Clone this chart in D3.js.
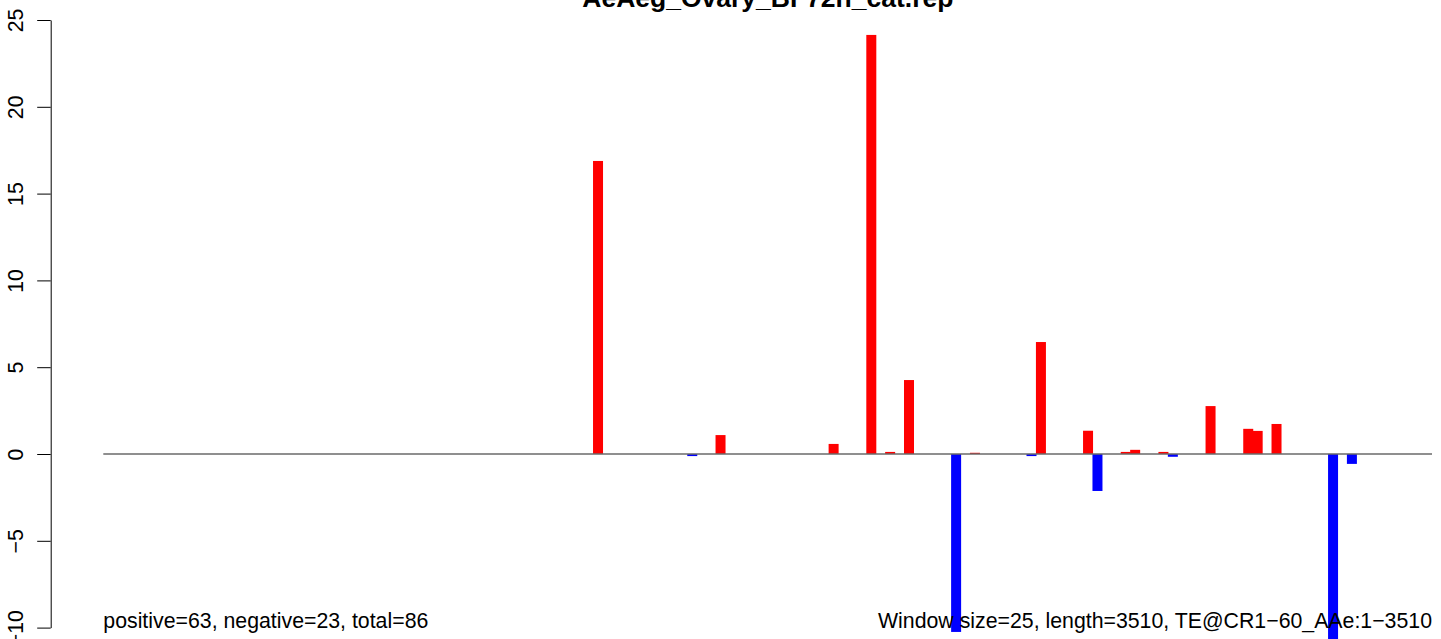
<!DOCTYPE html>
<html>
<head>
<meta charset="utf-8">
<script src="https://cdn.jsdelivr.net/npm/d3@7"></script>
<style>
  html, body { margin: 0; padding: 0; background: #fff; }
  svg { display: block; font-family: "Liberation Sans", Arial, Helvetica, sans-serif; }
</style>
</head>
<body>
<svg id="chart" width="1441" height="639"></svg>
<script>
// ---- data (window index = position / 25) ----
const titleText = "AeAeg_Ovary_BF72h_cat.rep";
const leftNote = "positive=63, negative=23, total=86";
const rightNote = "Window size=25, length=3510, TE@CR1\u221260_AAe:1\u22123510";
const windowCount = 141;

const senseWindows = [52, 65, 77, 81, 83, 85, 92, 99, 104, 108, 109, 112, 117, 121, 122, 124];
const senseValues  = [16.88, 1.09, 0.58, 24.14, 0.12, 4.26, 0.07, 6.45, 1.34, 0.12, 0.24, 0.12, 2.76, 1.45, 1.33, 1.73];

const antisenseWindows = [62, 90, 98, 105, 113, 130, 132];
const antisenseValues  = [-0.12, -10.25, -0.12, -2.13, -0.16, -10.7, -0.57];

const yTicks = [-10, -5, 0, 5, 10, 15, 20, 25];

// ---- drawing ----
const svg = d3.select("#chart");
const W = 1441, H = 639;
svg.append("rect").attr("width", W).attr("height", H).attr("fill", "#fff");

const x = d3.scaleLinear().domain([-0.5, windowCount - 0.5]).range([103.3, 1432]);
const y = d3.scaleLinear().domain([-10, 25]).range([627.6, 20]);
const axisX = 50.7;
const barW = 10;

// y axis
const yAxis = d3.axisLeft(y)
  .tickValues(yTicks)
  .tickSize(13.5)
  .tickSizeOuter(0)
  .tickFormat(d => (d < 0 ? "\u2212" + Math.abs(d) : String(d)));
const gy = svg.append("g").attr("transform", `translate(${axisX},0)`).call(yAxis);
gy.select(".domain").attr("stroke", "#000").attr("stroke-width", 1);
gy.selectAll(".tick line").attr("stroke", "#000").attr("stroke-width", 1);
gy.selectAll(".tick text")
  .attr("x", null).attr("dy", null)
  .attr("transform", "translate(-28,0) rotate(-90)")
  .attr("text-anchor", "middle")
  .attr("fill", "#000")
  .style("font-size", "21.3px")
  .style("font-family", "'Liberation Sans', Arial, sans-serif");

// bars
svg.append("g").selectAll("rect.pos")
  .data(senseWindows.map((w, i) => ({w, v: senseValues[i]})))
  .join("rect")
  .attr("class", "pos")
  .attr("x", d => x(d.w) - barW / 2)
  .attr("width", barW)
  .attr("y", d => y(d.v))
  .attr("height", d => y(0) - y(d.v))
  .attr("fill", "#ff0000");

svg.append("g").selectAll("rect.neg")
  .data(antisenseWindows.map((w, i) => ({w, v: antisenseValues[i]})))
  .join("rect")
  .attr("class", "neg")
  .attr("x", d => x(d.w) - barW / 2)
  .attr("width", barW)
  .attr("y", y(0))
  .attr("height", d => y(d.v) - y(0))
  .attr("fill", "#0000ff");

// baseline
svg.append("line")
  .attr("x1", x(-0.5)).attr("x2", x(windowCount - 0.5))
  .attr("y1", y(0)).attr("y2", y(0))
  .attr("stroke", "#6a6a6a").attr("stroke-width", 1.4);

// title
svg.append("text")
  .attr("x", (axisX + 1485) / 2)
  .attr("y", 7)
  .attr("text-anchor", "middle")
  .style("font-size", "26.5px")
  .style("font-weight", "bold")
  .attr("fill", "#000")
  .text(titleText);

// bottom notes
svg.append("text")
  .attr("x", x(-0.5)).attr("y", 628)
  .attr("text-anchor", "start")
  .style("font-size", "21.3px")
  .attr("fill", "#000")
  .text(leftNote);

svg.append("text")
  .attr("x", x(windowCount - 0.5)).attr("y", 628)
  .attr("text-anchor", "end")
  .style("font-size", "21.3px")
  .attr("fill", "#000")
  .text(rightNote);
</script>
</body>
</html>
